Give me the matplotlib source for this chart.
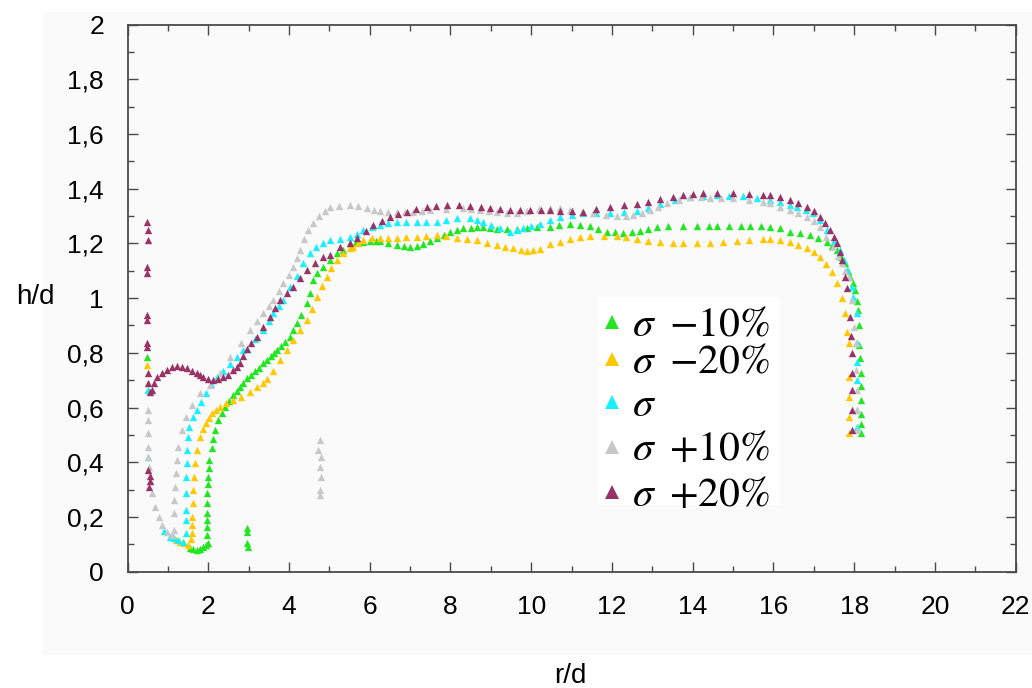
import matplotlib
matplotlib.use("Agg")
import matplotlib.pyplot as plt
from matplotlib.lines import Line2D
from matplotlib.patches import Rectangle
from matplotlib.ticker import MultipleLocator, FuncFormatter

# ---------------- data: h/d against r/d ----------------
r_m10 = [0.48, 0.5,
         1.55, 1.63, 1.71, 1.80, 1.88, 1.95, 2.0, 1.98, 1.98, 1.98, 1.98, 1.98, 1.98, 1.99, 1.99, 2.01, 2.03,
         2.09, 2.13, 2.17, 2.25, 2.33, 2.42, 2.52, 2.62, 2.70, 2.79, 2.87, 2.95, 3.05, 3.15, 3.25, 3.36, 3.45,
         3.55, 3.62, 3.7, 3.8, 3.9, 4.03, 4.11, 4.19, 4.3, 4.44, 4.52, 4.6, 4.7, 4.85, 5.02, 5.18, 5.35, 5.51,
         5.67, 5.84, 6.0, 6.16, 6.25, 6.45, 6.67, 6.85, 7.0, 7.17, 7.33, 7.5, 7.66, 7.83, 7.99, 8.15, 8.32, 8.5,
         8.65, 8.81, 8.98, 9.15, 9.4, 9.64, 9.9, 10.14, 10.47, 10.7, 10.96, 11.2, 11.46, 11.65, 11.87, 12.08,
         12.28, 12.5, 12.69, 12.9, 13.11, 13.4, 13.77, 14.1, 14.4, 14.59, 14.9, 15.2, 15.42, 15.7, 15.92, 16.16,
         16.41, 16.65, 16.91, 17.1, 17.32, 17.45, 17.57, 17.68, 17.78, 17.85, 17.9, 17.96, 18.02, 18.06, 18.1,
         18.12, 18.13, 18.15, 18.16, 18.16, 18.16, 18.16, 18.16, 18.16,
         2.95, 2.97, 2.95, 2.99]
h_m10 = [0.786, 0.664,
         0.086, 0.082, 0.079, 0.084, 0.091, 0.098, 0.104, 0.135, 0.164, 0.19, 0.213, 0.25, 0.287, 0.32, 0.347,
         0.38, 0.408, 0.451, 0.485, 0.518, 0.554, 0.58, 0.603, 0.625, 0.645, 0.66, 0.676, 0.69, 0.707, 0.72,
         0.735, 0.745, 0.762, 0.775, 0.79, 0.80, 0.81, 0.825, 0.84, 0.859, 0.885, 0.908, 0.94, 0.981, 1.02,
         1.066, 1.09, 1.115, 1.14, 1.164, 1.176, 1.2, 1.205, 1.206, 1.21, 1.21, 1.209, 1.2, 1.194, 1.19, 1.188,
         1.192, 1.197, 1.208, 1.218, 1.232, 1.243, 1.25, 1.255, 1.258, 1.261, 1.261, 1.257, 1.252, 1.252,
         1.252, 1.257, 1.261, 1.261, 1.266, 1.271, 1.268, 1.264, 1.254, 1.243, 1.24, 1.239, 1.243, 1.246,
         1.253, 1.259, 1.262, 1.264, 1.264, 1.264, 1.264, 1.264, 1.264, 1.264, 1.262, 1.261, 1.255, 1.243,
         1.237, 1.231, 1.22, 1.206, 1.19, 1.176, 1.15, 1.127, 1.1, 1.078, 1.055, 1.03, 0.99, 0.957, 0.9, 0.828,
         0.78, 0.725, 0.68, 0.627, 0.578, 0.54, 0.506,
         0.159, 0.146, 0.104, 0.092]

r_m20 = [0.48,
         1.2, 1.3, 1.4, 1.51, 1.58, 1.59, 1.59, 1.59, 1.61, 1.61, 1.65, 1.67, 1.73, 1.8, 1.87, 1.94, 2.01, 2.09,
         2.19, 2.29, 2.45, 2.62, 2.8, 3.03, 3.2, 3.35, 3.45, 3.6, 3.78, 3.95, 4.11, 4.27, 4.44, 4.57, 4.69,
         4.81, 4.93, 5.05, 5.18, 5.35, 5.51, 5.59, 5.7, 5.84, 6.05, 6.25, 6.45, 6.67, 6.9, 7.16, 7.4, 7.66, 7.9,
         8.15, 8.4, 8.65, 8.9, 9.15, 9.35, 9.56, 9.75, 9.89, 10.05, 10.22, 10.47, 10.71, 10.96, 11.2, 11.46,
         11.8, 12.12, 12.35, 12.61, 12.9, 13.19, 13.5, 13.77, 14.1, 14.43, 14.75, 15.09, 15.4, 15.75, 15.92,
         16.16, 16.41, 16.62, 16.82, 17.0, 17.15, 17.3, 17.44, 17.57, 17.69, 17.78, 17.83, 17.87, 17.88,
         17.88, 17.88, 17.88]
h_m20 = [0.755,
         0.115, 0.11, 0.104, 0.098, 0.12, 0.14, 0.17, 0.201, 0.25, 0.299, 0.347, 0.396, 0.445, 0.493, 0.52,
         0.542, 0.56, 0.579, 0.592, 0.603, 0.615, 0.628, 0.64, 0.658, 0.675, 0.69, 0.705, 0.735, 0.774, 0.81,
         0.847, 0.885, 0.92, 0.96, 1.005, 1.045, 1.078, 1.11, 1.139, 1.165, 1.182, 1.188, 1.2, 1.212, 1.218,
         1.221, 1.221, 1.221, 1.222, 1.224, 1.228, 1.231, 1.226, 1.221, 1.217, 1.212, 1.203, 1.194, 1.188,
         1.182, 1.176, 1.172, 1.174, 1.179, 1.198, 1.206, 1.215, 1.222, 1.227, 1.228, 1.227, 1.222, 1.215,
         1.21, 1.206, 1.203, 1.202, 1.202, 1.202, 1.206, 1.21, 1.213, 1.215, 1.215, 1.212, 1.206, 1.195,
         1.182, 1.168, 1.151, 1.125, 1.097, 1.054, 0.999, 0.944, 0.877, 0.835, 0.713, 0.64, 0.567, 0.506]

r_base = [0.5, 0.52,
          0.9, 1.05, 1.15, 1.26, 1.38, 1.45, 1.45, 1.44, 1.45, 1.45, 1.48, 1.48, 1.51, 1.53, 1.62, 1.71, 1.82,
          1.94, 2.08, 2.21, 2.37, 2.54, 2.7, 2.87, 2.95, 3.15, 3.36, 3.5, 3.61, 3.75, 3.86, 4.03, 4.19, 4.35,
          4.52, 4.68, 4.85, 5.02, 5.26, 5.51, 5.68, 5.84, 6.05, 6.25, 6.45, 6.67, 6.9, 7.16, 7.4, 7.66, 7.9,
          8.15, 8.48, 8.65, 8.81, 9.0, 9.23, 9.47, 9.65, 9.8, 10.0, 10.22, 10.47, 10.71, 11.0, 11.29, 11.6,
          11.95, 12.3, 12.61, 12.9, 13.19, 13.55, 13.93, 14.25, 14.59, 14.9, 15.25, 15.6, 15.92, 16.16, 16.41,
          16.58, 16.8, 16.99, 17.15, 17.32, 17.5, 17.65, 17.75, 17.82, 17.94, 17.98, 18.08, 18.08, 18.08,
          18.08, 18.08, 18.08]
h_base = [0.664, 0.42,
          0.15, 0.128, 0.122, 0.116, 0.11, 0.14, 0.189, 0.225, 0.287, 0.347, 0.396, 0.445, 0.493, 0.53, 0.565,
          0.591, 0.62, 0.652, 0.685, 0.713, 0.735, 0.758, 0.785, 0.81, 0.815, 0.85, 0.883, 0.915, 0.944, 0.97,
          0.993, 1.04, 1.08, 1.13, 1.164, 1.185, 1.2, 1.212, 1.215, 1.224, 1.235, 1.249, 1.26, 1.267, 1.273,
          1.277, 1.277, 1.277, 1.278, 1.279, 1.286, 1.292, 1.292, 1.286, 1.279, 1.268, 1.255, 1.243, 1.248,
          1.255, 1.262, 1.27, 1.285, 1.297, 1.305, 1.31, 1.31, 1.31, 1.314, 1.319, 1.33, 1.344, 1.358, 1.371,
          1.375, 1.377, 1.375, 1.373, 1.367, 1.359, 1.35, 1.34, 1.334, 1.322, 1.31, 1.285, 1.249, 1.21, 1.176,
          1.14, 1.103, 1.042, 1.005, 0.944, 0.835, 0.768, 0.70, 0.59, 0.53]

r_p10 = [0.5, 0.5, 0.5, 0.5, 0.52, 0.53, 0.56, 0.6, 0.69, 0.77, 0.85, 0.97, 1.09, 1.15, 1.15, 1.15, 1.17,
         1.2, 1.23, 1.26, 1.34, 1.45, 1.59, 1.8, 2.04, 2.29, 2.54, 2.8, 3.03, 3.2, 3.36, 3.5, 3.61, 3.75, 3.86,
         4.0, 4.11, 4.2, 4.27, 4.38, 4.48, 4.6, 4.75, 4.9, 5.02, 5.25, 5.51, 5.7, 5.92, 6.1, 6.25, 6.45, 6.67,
         6.87, 7.07, 7.3, 7.49, 7.9, 8.31, 8.5, 8.73, 8.95, 9.15, 9.39, 9.65, 9.9, 10.2, 10.47, 10.71, 10.96,
         11.25, 11.54, 11.85, 12.12, 12.35, 12.53, 12.75, 12.94, 13.15, 13.36, 13.65, 13.93, 14.2, 14.43, 14.7,
         15.0, 15.4, 15.75, 15.92, 16.16, 16.41, 16.6, 16.82, 17.0, 17.15, 17.3, 17.48, 17.6, 17.69, 17.78,
         17.86, 17.94, 18.0, 18.05, 18.05, 18.07, 18.07, 18.07,
         4.77, 4.73, 4.79, 4.77, 4.79, 4.77, 4.77]
h_p10 = [0.591, 0.555, 0.506, 0.457, 0.42, 0.384, 0.33, 0.287, 0.238, 0.201, 0.171, 0.146, 0.134, 0.152,
         0.213, 0.262, 0.311, 0.36, 0.408, 0.457, 0.518, 0.567, 0.609, 0.652, 0.682, 0.725, 0.786, 0.835,
         0.883, 0.915, 0.944, 0.97, 0.993, 1.025, 1.054, 1.085, 1.115, 1.145, 1.176, 1.215, 1.249, 1.275, 1.3,
         1.32, 1.334, 1.338, 1.34, 1.336, 1.33, 1.322, 1.318, 1.316, 1.316, 1.314, 1.313, 1.318, 1.322, 1.326,
         1.328, 1.326, 1.322, 1.318, 1.313, 1.31, 1.312, 1.318, 1.326, 1.328, 1.33, 1.322, 1.316, 1.31, 1.305,
         1.30, 1.30, 1.304, 1.312, 1.322, 1.334, 1.346, 1.36, 1.371, 1.368, 1.365, 1.365, 1.365, 1.358, 1.352,
         1.346, 1.334, 1.322, 1.31, 1.297, 1.28, 1.261, 1.225, 1.188, 1.155, 1.127, 1.1, 1.078, 0.993, 0.895,
         0.835, 0.737, 0.664, 0.59, 0.518,
         0.481, 0.445, 0.42, 0.384, 0.347, 0.299, 0.28]

r_p20 = [0.48, 0.5, 0.5, 0.48, 0.48, 0.48, 0.48, 0.48, 0.48, 0.5, 0.5, 0.52, 0.55, 0.55, 0.53,
         0.55, 0.6, 0.66, 0.72, 0.85, 0.97, 1.1, 1.22, 1.35, 1.47, 1.6, 1.71, 1.8, 1.88, 2.0, 2.13, 2.25, 2.37,
         2.5, 2.62, 2.71, 2.79, 2.87, 2.95, 3.05, 3.2, 3.36, 3.53, 3.65, 3.78, 3.95, 4.11, 4.28, 4.44, 4.65,
         4.85, 5.02, 5.26, 5.51, 5.68, 5.9, 6.09, 6.3, 6.5, 6.7, 6.92, 7.15, 7.41, 7.65, 7.91, 8.2, 8.48, 8.75,
         8.98, 9.23, 9.47, 9.72, 9.97, 10.25, 10.47, 10.71, 11.0, 11.29, 11.6, 11.95, 12.3, 12.61, 12.9, 13.19,
         13.5, 13.77, 14.0, 14.26, 14.6, 15.01, 15.4, 15.75, 15.92, 16.16, 16.41, 16.6, 16.82, 17.0, 17.15,
         17.28, 17.4, 17.5, 17.57, 17.64, 17.7, 17.78, 17.83, 17.9, 17.92, 17.94, 17.94, 17.94, 17.94, 17.94]
h_p20 = [1.279, 1.249, 1.212, 1.114, 1.092, 0.938, 0.92, 0.836, 0.82, 0.728, 0.691, 0.37, 0.35, 0.33, 0.31,
         0.655, 0.664, 0.69, 0.713, 0.728, 0.737, 0.748, 0.752, 0.748, 0.743, 0.735, 0.727, 0.72, 0.713, 0.705,
         0.701, 0.703, 0.71, 0.72, 0.737, 0.75, 0.762, 0.79, 0.815, 0.835, 0.859, 0.895, 0.932, 0.962, 0.993,
         1.018, 1.042, 1.072, 1.103, 1.128, 1.151, 1.157, 1.188, 1.2, 1.218, 1.245, 1.267, 1.283, 1.297, 1.307,
         1.316, 1.326, 1.334, 1.338, 1.34, 1.34, 1.338, 1.334, 1.33, 1.326, 1.322, 1.322, 1.322, 1.322, 1.322,
         1.32, 1.318, 1.316, 1.325, 1.334, 1.34, 1.344, 1.352, 1.361, 1.37, 1.377, 1.382, 1.385, 1.385, 1.385,
         1.381, 1.377, 1.377, 1.37, 1.359, 1.348, 1.334, 1.318, 1.297, 1.275, 1.249, 1.225, 1.2, 1.17, 1.139,
         1.078, 1.036, 0.932, 0.86, 0.798, 0.725, 0.664, 0.591, 0.518]

series_labels = [r'$\sigma\;\;{-}10\%$', r'$\sigma\;\;{-}20\%$', r'$\sigma$',
                 r'$\sigma\;\;{+}10\%$', r'$\sigma\;\;{+}20\%$']
series_colors = ['#22e622', '#ffc800', '#19f0ff', '#c8c8c8', '#993366']
series_r = [r_m10, r_m20, r_base, r_p10, r_p20]
series_h = [h_m10, h_m20, h_base, h_p10, h_p20]

x_ticks = [0, 2, 4, 6, 8, 10, 12, 14, 16, 18, 20, 22]
y_ticks = [0, 0.2, 0.4, 0.6, 0.8, 1.0, 1.2, 1.4, 1.6, 1.8, 2.0]

# ---------------- figure ----------------
plt.rcParams['font.family'] = ['Liberation Sans', 'DejaVu Sans']
plt.rcParams['mathtext.fontset'] = 'stix'

W, H = 1032, 688
fig = plt.figure(figsize=(W / 100, H / 100), dpi=100, facecolor='white')


def fx(px):
    return px / W


def fy(py):
    return 1 - py / H


panel = '#fafafa'
# light chart-area panel behind the plot
bg = fig.add_axes([fx(43), fy(655), 1 - fx(43), (655 - 12) / H], zorder=-10)
bg.set_facecolor(panel)
bg.set_xticks([])
bg.set_yticks([])
for sp in bg.spines.values():
    sp.set_visible(False)

ax = fig.add_axes([fx(127.5), fy(571.7), (1015.7 - 127.5) / W, (571.7 - 24.5) / H], zorder=1)
ax.set_facecolor(panel)

for r, h, c in zip(series_r, series_h, series_colors):
    ax.scatter(r, h, marker='^', s=28, color=c, linewidths=0, zorder=3)

ax.set_xlim(0, 22)
ax.set_ylim(0, 2)
ax.set_xticks(x_ticks)
ax.set_yticks(y_ticks)
ax.xaxis.set_minor_locator(MultipleLocator(1))
ax.yaxis.set_minor_locator(MultipleLocator(0.1))


def comma_fmt(v, _pos):
    s = f'{v:.1f}'.rstrip('0').rstrip('.')
    return s.replace('.', ',')


ax.yaxis.set_major_formatter(FuncFormatter(comma_fmt))
ax.xaxis.set_major_formatter(FuncFormatter(lambda v, p: f'{int(round(v))}'))

spine_col = '#4a4a4a'
for sp in ax.spines.values():
    sp.set_color(spine_col)
    sp.set_linewidth(1.3)
ax.tick_params(which='both', direction='in', top=True, right=True, color=spine_col, width=1.0)
ax.tick_params(which='major', length=7, labelsize=19, pad=17, labelcolor='black')
ax.tick_params(which='minor', length=4.5)

fig.text(fx(35), fy(297), 'h/d', fontsize=20, ha='center', va='center')
fig.text(fx(570), fy(676), 'r/d', fontsize=20, ha='center', va='center')

# legend box, drawn entry by entry on a white panel
fig.add_artist(Rectangle((fx(598), fy(505)), (780 - 598) / W, (505 - 297) / H,
                         transform=fig.transFigure, facecolor='white', edgecolor='none',
                         zorder=4))
row_y = [320, 357, 400, 445, 490]
for y, c, lab in zip(row_y, series_colors, series_labels):
    fig.add_artist(Line2D([fx(612)], [fy(y + 2)], transform=fig.transFigure, linestyle='none',
                          marker='^', markersize=9.5, color=c, markeredgewidth=0, zorder=5))
    fig.text(fx(632), fy(y), lab, fontsize=30, ha='left', va='center_baseline', zorder=5)

fig.savefig('out.png', dpi=100, facecolor='white')
